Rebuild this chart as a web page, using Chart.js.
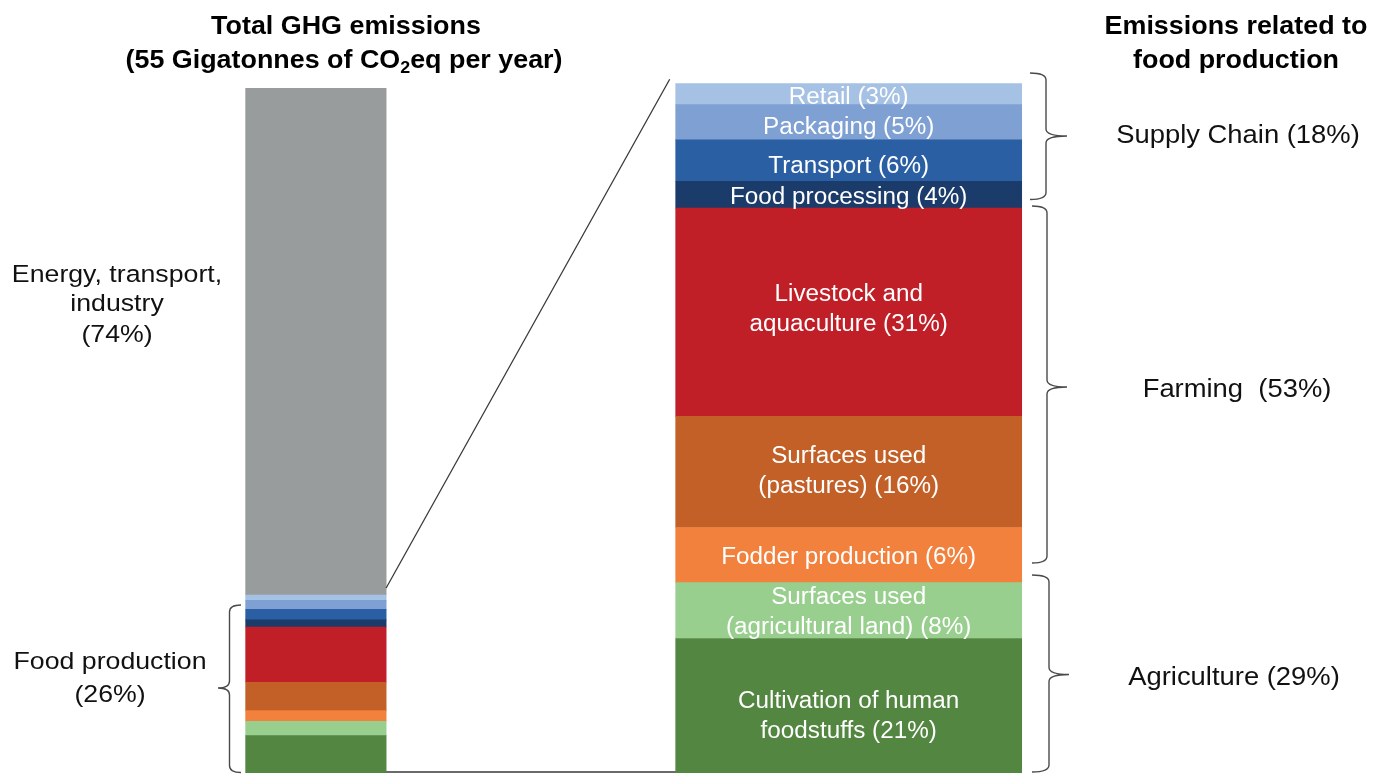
<!DOCTYPE html>
<html>
<head>
<meta charset="utf-8">
<script src="https://cdn.jsdelivr.net/npm/chart.js@4/dist/chart.umd.min.js"></script>
<style>
html,body{margin:0;padding:0;background:#ffffff;overflow:hidden}
canvas{display:block}
</style>
</head>
<body>
<canvas id="c" width="1386" height="778"></canvas>
<script>
// ---------------- DATA (bottom to top) ----------------
const components = ['Cultivation of human foodstuffs', 'Surfaces used (agricultural land)', 'Fodder production',
  'Surfaces used (pastures)', 'Livestock and aquaculture', 'Food processing', 'Transport', 'Packaging', 'Retail'];
const componentLabels = [
  ['Cultivation of human', 'foodstuffs (21%)'],
  ['Surfaces used', '(agricultural land) (8%)'],
  ['Fodder production (6%)'],
  ['Surfaces used', '(pastures) (16%)'],
  ['Livestock and', 'aquaculture (31%)'],
  ['Food processing (4%)'],
  ['Transport (6%)'],
  ['Packaging (5%)'],
  ['Retail (3%)']
];
// stated shares of food-production emissions (%), used for the left (total) bar
const foodSharePct = [21, 8, 6, 16, 31, 4, 6, 5, 3];
// segment sizes of the right bar as drawn in the picture (% of bar height)
const foodBarDrawnPct = [19.5, 8.1, 8.0, 16.1, 30.2, 3.9, 6.0, 5.1, 3.1];
// total GHG split (%)
const totalCategories = ['Food production', 'Energy, transport, industry'];
const totalSplitPct = [26, 74];
const barCategories = ['Total GHG emissions', 'Emissions related to food production'];
const groupLabels = ['Supply Chain (18%)', 'Farming  (53%)', 'Agriculture (29%)'];

// ---------------- STYLE ----------------
const segColors = ['#538640', '#99cf8e', '#f1813c', '#c26027', '#c11f27', '#1b3c6a', '#2b5fa4', '#7fa0d3', '#a5c1e3'];
const grayColor = '#999c9c';
const FONT = '"Liberation Sans", Arial, Helvetica, sans-serif';
const labelNudge = [9.5, 0.5, 0.5, -2, -4.5, 1, 4.5, 3, 2];

const datasets = [];
components.forEach((name, i) => {
  datasets.push({
    label: name + ' (share of total)',
    data: [foodSharePct[i] * totalSplitPct[0] / 100, null],
    backgroundColor: segColors[i], borderWidth: 0, yAxisID: 'y', barThickness: 140.5
  });
});
datasets.push({
  label: totalCategories[1],
  data: [totalSplitPct[1], null],
  backgroundColor: grayColor, borderWidth: 0, yAxisID: 'y', barThickness: 140.5
});
const rightStart = datasets.length;
components.forEach((name, i) => {
  datasets.push({
    label: name,
    data: [null, foodBarDrawnPct[i]],
    backgroundColor: segColors[i], borderWidth: 0, yAxisID: 'y2', barThickness: 346
  });
});

function drawParts(ctx, parts, cx, baseline, sx, color) {
  let total = 0;
  parts.forEach(p => { ctx.font = p.font; p.w = ctx.measureText(p.text).width; total += p.w; });
  ctx.save();
  ctx.translate(cx, baseline);
  ctx.scale(sx, 1);
  ctx.fillStyle = color;
  ctx.textAlign = 'left';
  ctx.textBaseline = 'alphabetic';
  let x = -total / 2;
  parts.forEach(p => { ctx.font = p.font; ctx.fillText(p.text, x, p.dy || 0); x += p.w; });
  ctx.restore();
}
function drawText(ctx, text, font, cx, baseline, sx, color) {
  drawParts(ctx, [{ text, font }], cx, baseline, sx, color);
}
// brace: ends at xe, spine at xs, tip at xt
function brace(ctx, xe, xs, xt, y1, y2, yt) {
  const r = 7;
  ctx.beginPath();
  ctx.moveTo(xe, y1);
  ctx.quadraticCurveTo(xs, y1, xs, y1 + r);
  ctx.lineTo(xs, yt - r);
  ctx.quadraticCurveTo(xs, yt, xt, yt);
  ctx.moveTo(xt, yt);
  ctx.quadraticCurveTo(xs, yt, xs, yt + r);
  ctx.lineTo(xs, y2 - r);
  ctx.quadraticCurveTo(xs, y2, xe, y2);
  ctx.stroke();
}

const annotations = {
  id: 'annotations',
  afterDatasetsDraw(chart) {
    const ctx = chart.ctx;
    const n = components.length;
    // segment labels in right bar
    for (let i = 0; i < n; i++) {
      const el = chart.getDatasetMeta(rightStart + i).data[1];
      const mid = (el.y + el.base) / 2 + labelNudge[i];
      const lines = componentLabels[i];
      const fs = 23, lh = 30;
      lines.forEach((t, k) => {
        const capC = mid + (k - (lines.length - 1) / 2) * lh;
        drawText(ctx, t, fs + 'px ' + FONT, el.x, capC + 0.358 * fs, 1.055, '#ffffff');
      });
    }
    // connector lines
    const leftTop = chart.getDatasetMeta(n - 1).data[0];
    const leftBottom = chart.getDatasetMeta(0).data[0];
    const rightTop = chart.getDatasetMeta(rightStart + n - 1).data[1];
    const lRight = leftTop.x + leftTop.width / 2;
    const rLeft = rightTop.x - rightTop.width / 2;
    ctx.save();
    ctx.strokeStyle = '#3a3a3a';
    ctx.lineWidth = 1.3;
    ctx.beginPath();
    ctx.moveTo(lRight, leftTop.y - 7);
    ctx.lineTo(rLeft - 6, rightTop.y - 4);
    ctx.moveTo(lRight, leftBottom.base - 1);
    ctx.lineTo(rLeft, leftBottom.base - 1);
    ctx.stroke();
    // braces
    ctx.strokeStyle = '#4a4a4a';
    ctx.lineWidth = 1.4;
    brace(ctx, 241, 229.5, 218, 605, 772.5, 688);
    brace(ctx, 1030, 1046, 1067, 73, 199.5, 136);
    brace(ctx, 1032, 1047, 1067, 206, 563, 387);
    brace(ctx, 1032, 1049, 1069, 575, 772, 674.5);
    ctx.restore();

    // titles
    const tf = 'bold 25.6px ' + FONT;
    drawText(ctx, 'Total GHG emissions', tf, 346, 33.5, 1.05, '#000');
    drawParts(ctx, [
      { text: '(55 Gigatonnes of CO', font: tf },
      { text: '2', font: 'bold 17px ' + FONT, dy: 5 },
      { text: 'eq per year)', font: tf }
    ], 344, 68, 1.05, '#000');
    drawText(ctx, 'Emissions related to', tf, 1236, 33.5, 1.05, '#000');
    drawText(ctx, 'food production', tf, 1236, 68, 1.05, '#000');

    // left labels
    const lf = '24.5px ' + FONT;
    drawText(ctx, 'Energy, transport,', lf, 117, 281.5, 1.09, '#111');
    drawText(ctx, 'industry', lf, 117, 311, 1.09, '#111');
    drawText(ctx, '(' + totalSplitPct[1] + '%)', lf, 117, 341.5, 1.09, '#111');
    drawText(ctx, totalCategories[0], lf, 110, 668.5, 1.09, '#111');
    drawText(ctx, '(' + totalSplitPct[0] + '%)', lf, 110, 701.5, 1.09, '#111');

    // group labels
    const gf = '25.6px ' + FONT;
    drawText(ctx, groupLabels[0], gf, 1238, 134 + 9.2, 1.07, '#111');
    drawText(ctx, groupLabels[1], gf, 1237, 388 + 9.2, 1.07, '#111');
    drawText(ctx, groupLabels[2], gf, 1234, 676 + 9.2, 1.07, '#111');
  }
};

new Chart(document.getElementById('c'), {
  type: 'bar',
  data: { labels: barCategories, datasets },
  options: {
    responsive: false,
    animation: false,
    devicePixelRatio: 1,
    layout: { padding: { left: 49.5, right: 270.9, top: 83.3, bottom: 5 } },
    plugins: { legend: { display: false }, tooltip: { enabled: false }, title: { display: false } },
    scales: {
      x: { type: 'category', stacked: true, display: false, offset: true, grid: { display: false } },
      y: { stacked: true, display: false, min: 0, max: 100.73 },
      y2: { stacked: true, display: false, min: 0, max: 100 }
    }
  },
  plugins: [annotations]
});
</script>
</body>
</html>
